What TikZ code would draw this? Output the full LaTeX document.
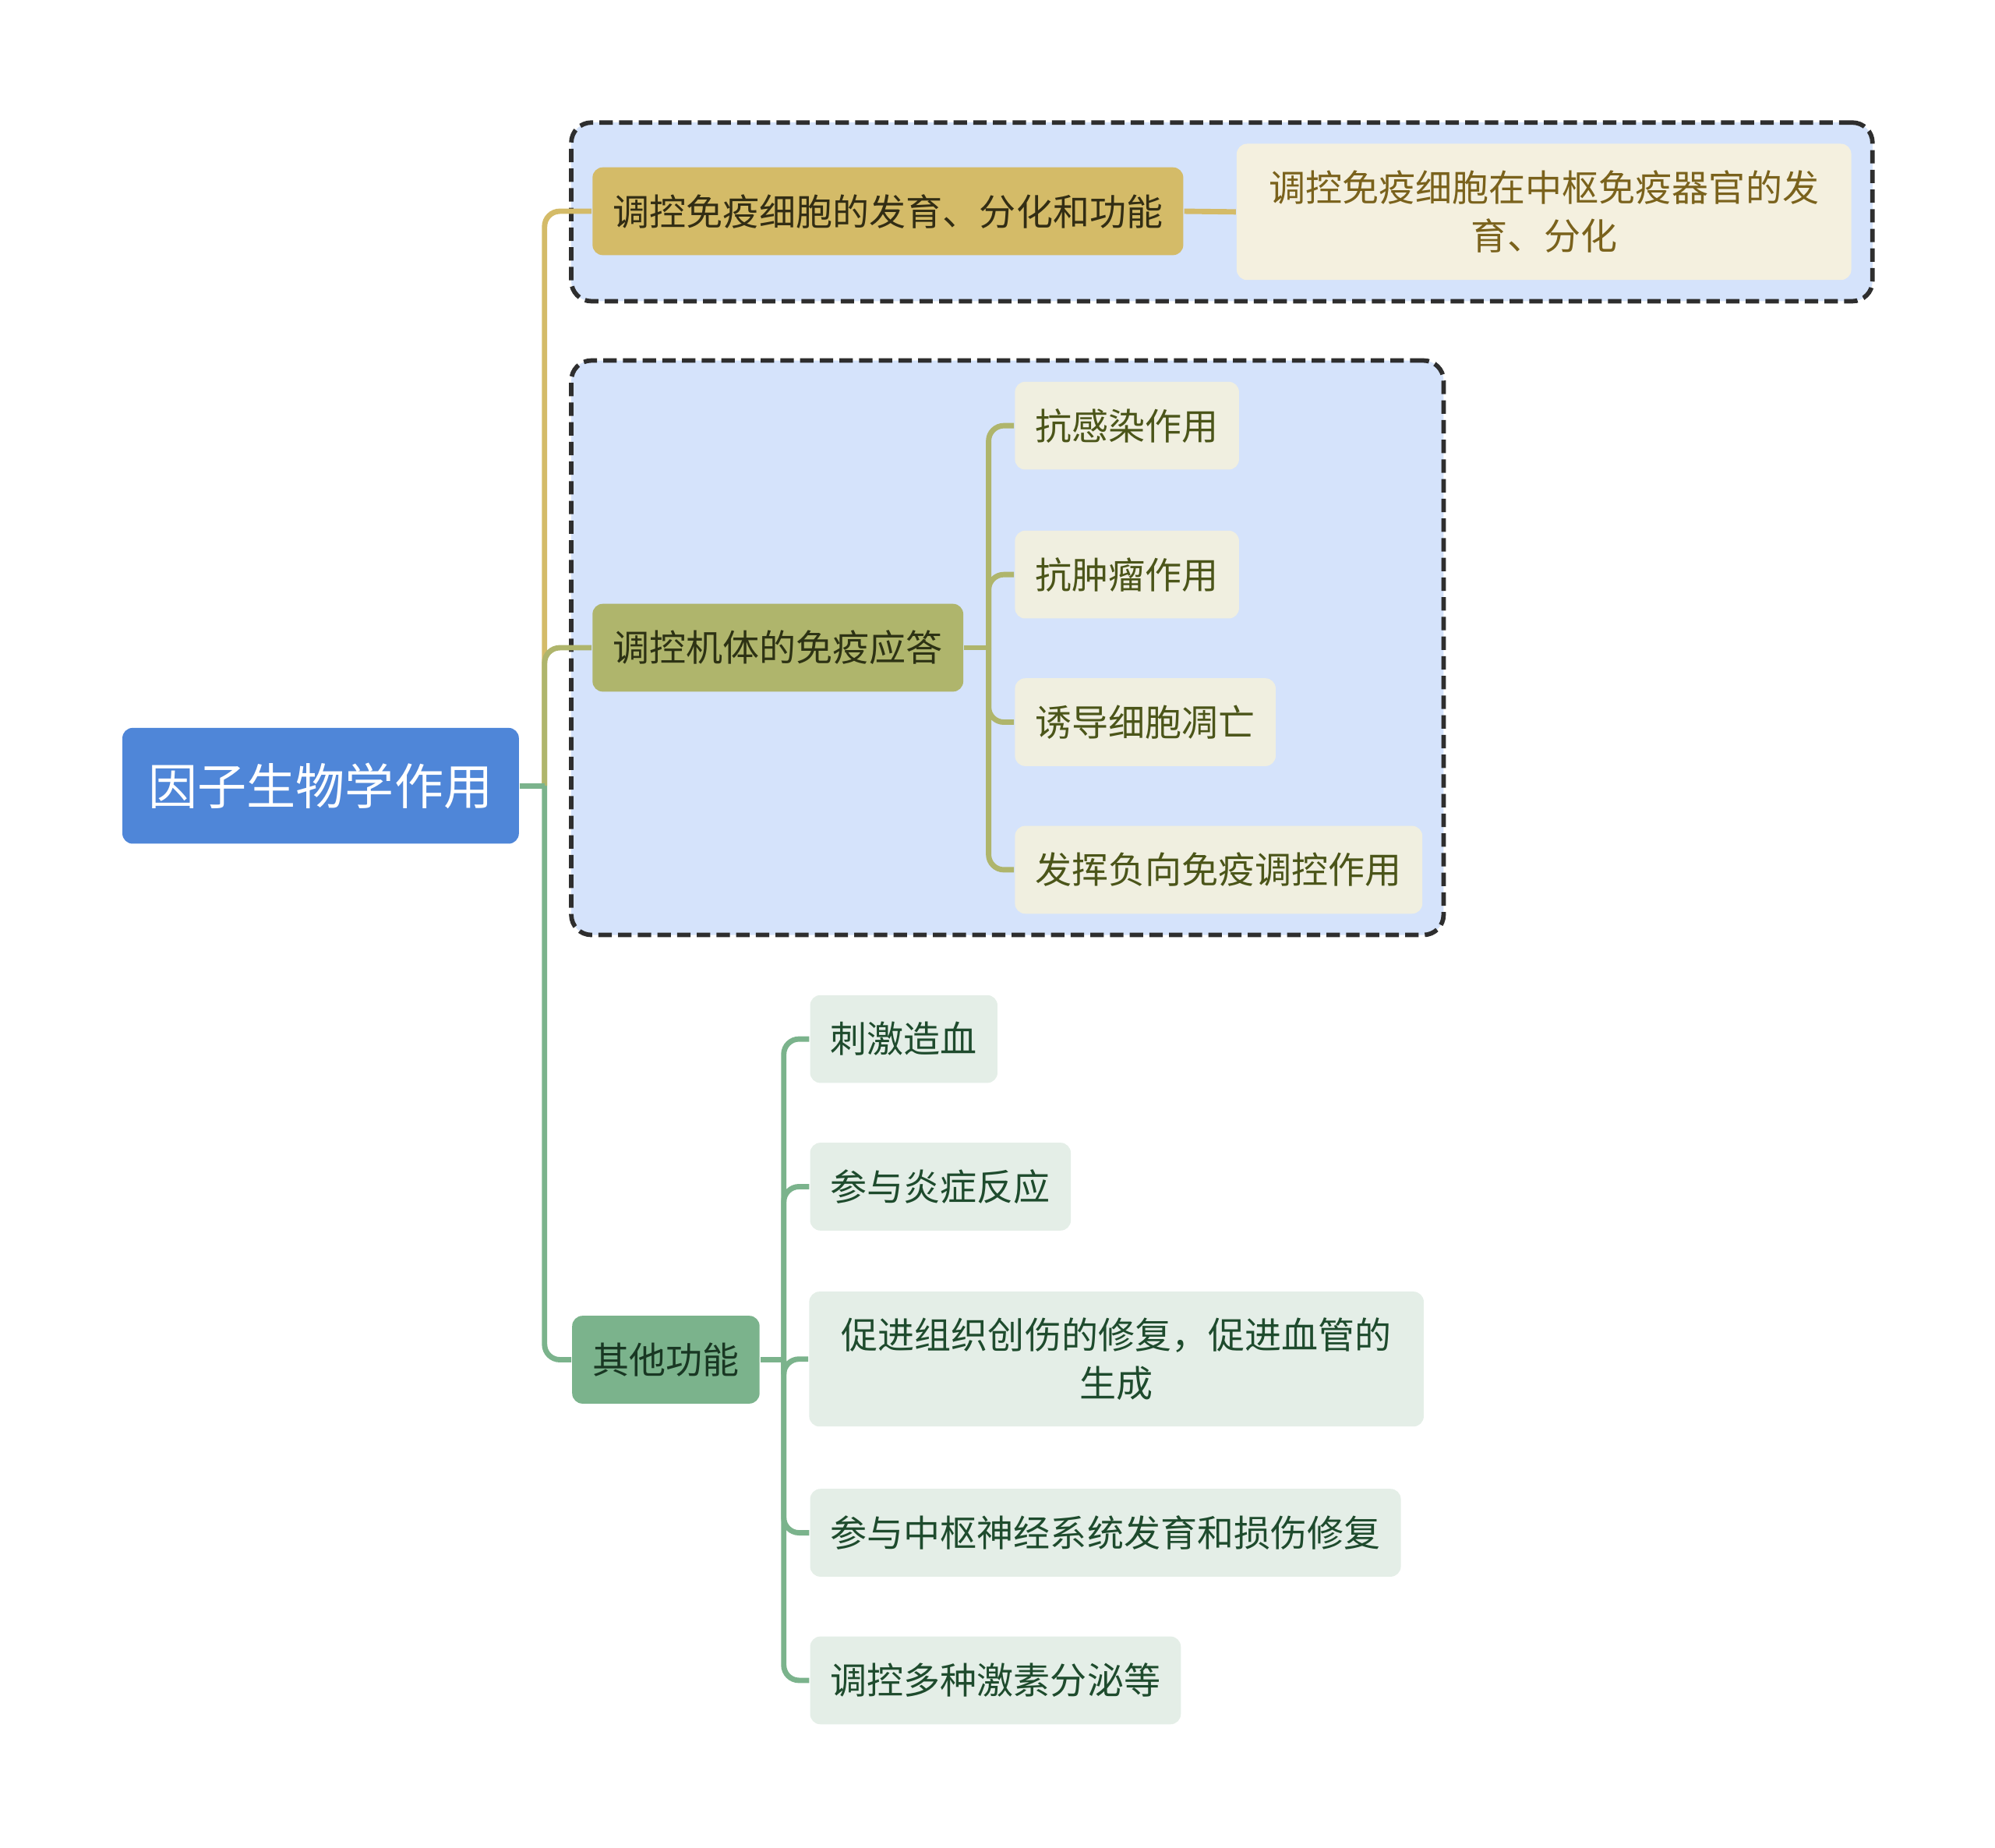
\documentclass[tikz,border=0pt]{standalone}
\usepackage{fontspec}
\setmainfont{Noto Sans CJK SC}
\usetikzlibrary{fit,backgrounds}
\definecolor{bfblue}{RGB}{79,134,216}
\definecolor{bfgroupfill}{RGB}{213,227,251}
\definecolor{bfgroupline}{RGB}{46,46,46}
\definecolor{bfgold}{RGB}{212,187,104}
\definecolor{bfgoldleaf}{RGB}{244,240,223}
\definecolor{bfgoldtext}{RGB}{122,98,28}
\definecolor{bfolive}{RGB}{175,181,108}
\definecolor{bfoliveleaf}{RGB}{240,239,224}
\definecolor{bfolivetext}{RGB}{75,85,25}
\definecolor{bfgreen}{RGB}{123,179,140}
\definecolor{bfgreenleaf}{RGB}{228,238,231}
\definecolor{bfgreentext}{RGB}{30,75,45}
\tikzset{
  bfbox/.style={rounded corners=2.3pt, align=center, inner xsep=0.16cm, inner ysep=0pt,
    minimum height=0.69cm, font=\fontsize{8.2pt}{10.8pt}\selectfont},
  bfroot/.style={bfbox, fill=bfblue, text=white, inner xsep=0.205cm, minimum height=0.91cm,
    font=\fontsize{11pt}{13pt}\selectfont},
  bfgoldmain/.style={bfbox, fill=bfgold, text={rgb,255:red,50;green,45;blue,20}},
  bfgoldsub/.style={bfbox, fill=bfgoldleaf, text=bfgoldtext},
  bfolivemain/.style={bfbox, fill=bfolive, text={rgb,255:red,45;green,50;blue,20}},
  bfolivesub/.style={bfbox, fill=bfoliveleaf, text=bfolivetext},
  bfgreenmain/.style={bfbox, fill=bfgreen, text={rgb,255:red,25;green,55;blue,35}},
  bfgreensub/.style={bfbox, fill=bfgreenleaf, text=bfgreentext},
  bfgroup/.style={draw=bfgroupline, fill=bfgroupfill, line width=1pt,
    dash pattern=on 3pt off 1.4pt, rounded corners=4.5pt, inner sep=0.16cm},
  bfline/.style={line width=1.2pt, rounded corners=0.12cm}
}

\begin{document}
\begin{tikzpicture}
  \useasboundingbox (0,0) rectangle (15.68,-14.52);
  \node[bfroot] (root) at (2.52,-6.175) {因子生物学作用};
  % first branch
  \node[bfgoldmain, anchor=west] (dev) at (4.65,-1.66) {调控免疫细胞的发育、分化和功能};
  \node[bfgoldsub, text width=4.45cm, inner xsep=0.19cm, minimum height=1.07cm] (devsub) at (12.135,-1.665)
    {调控免疫细胞在中枢免疫器官的发\\育、分化};
  % second branch
  \node[bfolivemain, anchor=west] (resp) at (4.65,-5.09) {调控机体的免疫应答};
  \node[bfolivesub, anchor=west] (infect) at (7.97,-3.345) {抗感染作用};
  \node[bfolivesub, anchor=west] (tumor) at (7.97,-4.515) {抗肿瘤作用};
  \node[bfolivesub, anchor=west] (apop) at (7.97,-5.675) {诱导细胞凋亡};
  \node[bfolivesub, anchor=west] (negreg) at (7.97,-6.835) {发挥负向免疫调控作用};
  % third branch
  \node[bfgreenmain, anchor=west] (other) at (4.49,-10.685) {其他功能};
  \node[bfgreensub, anchor=west] (blood) at (6.36,-8.165) {刺激造血};
  \node[bfgreensub, anchor=west] (inflam) at (6.36,-9.325) {参与炎症反应};
  \node[bfgreensub, text width=4.45cm, inner xsep=0.19cm, minimum height=1.06cm] (repair) at (8.775,-10.68)
    {促进组织创伤的修复，促进血管的\\生成};
  \node[bfgreensub, anchor=west] (nerve) at (6.36,-12.045) {参与中枢神经系统发育和损伤修复};
  \node[bfgreensub, anchor=west] (hormone) at (6.36,-13.205) {调控多种激素分泌等};

  \begin{scope}[on background layer]
    \node[bfgroup, fit=(dev)(devsub)] (devgroup) {};
    \node[bfgroup, fit=(resp)(infect)(negreg)] (respgroup) {};
  \end{scope}

  \coordinate (rootjoint) at (4.28,-6.175);
  \coordinate (respjoint) at (7.77,-5.09);
  \coordinate (otherjoint) at (6.16,-10.685);

  \draw[bfline, draw=bfgold] (rootjoint) |- (dev.west);
  \draw[bfline, draw=bfolive] (rootjoint) |- (resp.west);
  \draw[bfline, draw=bfgreen] (rootjoint) |- (other.west);
  \draw[bfline, draw=bfgreen] (root.east) -- (rootjoint);
  \draw[bfline, draw=bfgold] (dev.east) -- (devsub.west);

  \draw[bfline, draw=bfolive] (resp.east) -- (respjoint);
  \foreach \leaf in {infect,tumor,apop,negreg}
    \draw[bfline, draw=bfolive] (respjoint) |- (\leaf.west);

  \draw[bfline, draw=bfgreen] (other.east) -- (otherjoint);
  \foreach \leaf in {blood,inflam,repair,nerve,hormone}
    \draw[bfline, draw=bfgreen] (otherjoint) |- (\leaf.west);
\end{tikzpicture}
\end{document}
